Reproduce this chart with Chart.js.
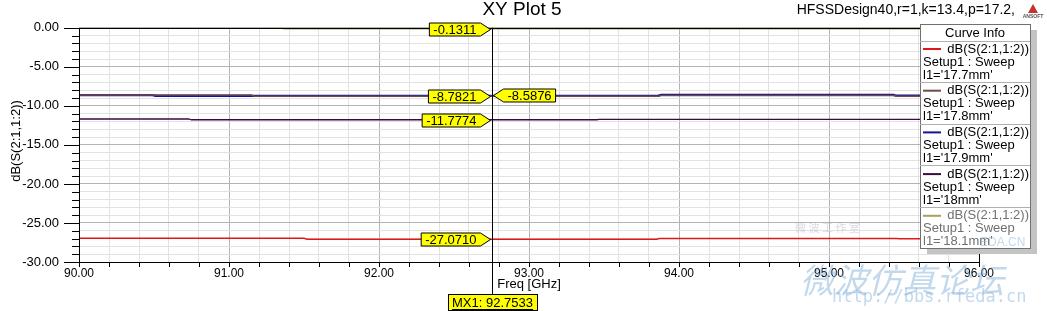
<!DOCTYPE html>
<html>
<head>
<meta charset="utf-8">
<script src="https://cdn.jsdelivr.net/npm/chart.js@4.4.1/dist/chart.umd.min.js"></script>
<style>
  html, body { margin: 0; padding: 0; background: #fff; }
  #wrap { width: 1047px; height: 311px; position: relative; }
  canvas { display: block; }
</style>
</head>
<body>
<div id="wrap"><canvas id="plot" width="1047" height="311" style="width:1047px;height:311px"></canvas></div>
<script>
// Curve data (freq in GHz, dB)
const freq177 = [90, 91.5, 91.52, 93.85, 93.87, 95.45, 95.47, 96];
const db177   = [-26.97, -26.97, -27.07, -27.07, -26.99, -26.99, -27.03, -27.03];

const freq178 = [90, 91.15, 91.17, 93.86, 93.88, 95.43, 95.45, 96];
const db178   = [-8.62, -8.62, -8.78, -8.78, -8.66, -8.66, -8.76, -8.76];

const freq179 = [90, 90.49, 90.51, 93.86, 93.88, 95.43, 95.45, 96];
const db179   = [-8.62, -8.62, -8.72, -8.72, -8.59, -8.59, -8.7, -8.7];

const freq180 = [90, 90.73, 90.75, 93.45, 93.47, 96];
const db180   = [-11.68, -11.68, -11.78, -11.78, -11.72, -11.72];

const freq181 = [90, 91.35, 91.37, 96];
const db181   = [-0.06, -0.06, -0.13, -0.13];

const curveNames = ["l1='17.7mm'", "l1='17.8mm'", "l1='17.9mm'", "l1='18mm'", "l1='18.1mm'"];
const curveColors = ['#e01818', '#6e4c4c', '#141496', '#3c0a40', '#a4a45c'];

// marker MX1
const markerFreq = 92.7533;
const markerVals = [-0.1311, -8.7821, -8.5876, -11.7774, -27.0710];
const markerLeft = [true, true, false, true, true];

function pts(xs, ys) {
    return xs.map((x, i) => ({ x: x, y: ys[i] }));
}

const isWhole = (v, step) => Math.abs(v / step - Math.round(v / step)) < 1e-6;
const FONT = 'Arial, "Liberation Sans"';

// custom drawing: ticks, frame, title, legend, markers, watermark
const decor = {
    id: 'decor',
    beforeDatasetsDraw(chart) {
        const c = chart.ctx, a = chart.chartArea;
        const xs = chart.scales.x, ys = chart.scales.y;
        c.save();
        c.strokeStyle = '#000';
        c.lineWidth = 1;
        // y ticks
        for (let v = 0; v >= -30; v -= 1) {
            const py = Math.round(ys.getPixelForValue(v)) + 0.5;
            const len = (v % 5 === 0) ? 15 : 7;
            c.beginPath(); c.moveTo(a.left - len, py); c.lineTo(a.left, py); c.stroke();
        }
        // x ticks
        for (let i = 0; i <= 30; i++) {
            const v = 90 + i * 0.2;
            const px = Math.round(xs.getPixelForValue(v)) + 0.5;
            c.beginPath(); c.moveTo(px, a.bottom); c.lineTo(px, a.bottom + 5); c.stroke();
        }
        c.restore();
    },
    afterDraw(chart) {
        const c = chart.ctx, a = chart.chartArea;
        const xs = chart.scales.x, ys = chart.scales.y;
        c.save();
        // frame
        c.strokeStyle = '#000';
        c.lineWidth = 1;
        c.strokeRect(Math.round(a.left) + 0.5, Math.round(a.top) + 0.5, Math.round(a.width), Math.round(a.height));

        // titles
        c.fillStyle = '#000';
        c.font = '19px ' + FONT;
        c.textAlign = 'center'; c.textBaseline = 'middle';
        c.fillText('XY Plot 5', 522, 10);
        c.font = '14px ' + FONT;
        c.textAlign = 'right';
        c.fillText('HFSSDesign40,r=1,k=13.4,p=17.2,', 1015, 10);
        // ansoft logo
        c.fillStyle = '#c83030';
        c.beginPath(); c.moveTo(1033, 4); c.lineTo(1028, 13); c.lineTo(1038, 13); c.closePath(); c.fill();
        c.fillStyle = '#555';
        c.font = 'bold 5px ' + FONT;
        c.textAlign = 'center';
        c.fillText('ANSOFT', 1033, 17);

        c.fillStyle = '#000';
        c.font = '13px ' + FONT;
        c.fillText('Freq [GHz]', 529, 284);
        c.save();
        c.translate(16, 141);
        c.rotate(-Math.PI / 2);
        c.fillText('dB(S(2:1,1:2))', 0, 0);
        c.restore();

        // marker line
        const mx = Math.round(xs.getPixelForValue(markerFreq)) + 0.5;
        c.strokeStyle = '#000';
        c.beginPath(); c.moveTo(mx, a.top); c.lineTo(mx, 294); c.stroke();

        // marker labels
        c.font = '13px ' + FONT;
        c.textBaseline = 'middle';
        markerVals.forEach((v, i) => {
            const py = Math.round(ys.getPixelForValue(v)) + 0.5;
            const txt = v.toFixed(4);
            const w = c.measureText(txt).width + 8;
            const h = 13;
            c.beginPath();
            if (markerLeft[i]) {
                const tip = mx - 2, r = tip - 10, l = r - w;
                c.moveTo(l, py - h / 2); c.lineTo(r, py - h / 2); c.lineTo(tip, py);
                c.lineTo(r, py + h / 2); c.lineTo(l, py + h / 2); c.closePath();
                c.fillStyle = '#ffff00'; c.fill(); c.strokeStyle = '#000'; c.stroke();
                c.fillStyle = '#000'; c.textAlign = 'center';
                c.fillText(txt, (l + r) / 2, py + 1);
            } else {
                const tip = mx + 1, l = tip + 10, r = l + w;
                c.moveTo(tip, py); c.lineTo(l, py - h / 2); c.lineTo(r, py - h / 2);
                c.lineTo(r, py + h / 2); c.lineTo(l, py + h / 2); c.closePath();
                c.fillStyle = '#ffff00'; c.fill(); c.strokeStyle = '#000'; c.stroke();
                c.fillStyle = '#000'; c.textAlign = 'center';
                c.fillText(txt, (l + r) / 2, py + 1);
            }
        });
        // MX1 box
        const mtxt = 'MX1: ' + markerFreq.toFixed(4);
        const mw = c.measureText(mtxt).width + 8;
        c.fillStyle = '#ffff00';
        c.fillRect(mx - mw / 2, 294, mw, 17);
        c.strokeStyle = '#000';
        c.strokeRect(Math.round(mx - mw / 2) + 0.5, 294.5, Math.round(mw), 16);
        c.fillStyle = '#000'; c.textAlign = 'center';
        c.fillText(mtxt, mx, 303);
        c.fillRect(mx - mw / 2 + 4, 309, mw - 8, 1);

        // watermark
        c.fillStyle = 'rgba(120,170,215,0.45)';
        c.font = 'italic 34px "Noto Sans CJK SC"';
        c.textAlign = 'left';
        c.fillText('微波仿真论坛', 800, 280);
        c.font = '17px "DejaVu Sans Mono"';
        c.fillText('http://bbs.rfeda.cn', 832, 298);
        c.font = '11px "Noto Sans CJK SC"';
        c.fillStyle = 'rgba(150,150,180,0.35)';
        c.fillText('微 波 工 作 室', 795, 228);

        // legend
        const lx = 920, ly = 24, lw = 110, lh = 224;
        c.fillStyle = '#c4c4c4';
        c.fillRect(lx + 7, ly + 6, lw, lh);
        c.fillStyle = '#fff';
        c.fillRect(lx, ly, lw, lh);
        c.strokeStyle = '#707070';
        c.strokeRect(lx + 0.5, ly + 0.5, lw, lh);
        c.fillStyle = '#000';
        c.font = '13px ' + FONT;
        c.textAlign = 'center';
        c.fillText('Curve Info', lx + lw / 2, 33);
        c.strokeStyle = '#b0b0b0';
        c.beginPath(); c.moveTo(lx, 41.5); c.lineTo(lx + lw, 41.5); c.stroke();
        curveNames.forEach((nm, i) => {
            const y0 = 49 + i * 41.7;
            c.strokeStyle = curveColors[i];
            c.lineWidth = 2;
            c.beginPath(); c.moveTo(lx + 3, y0); c.lineTo(lx + 21, y0); c.stroke();
            c.lineWidth = 1;
            c.fillStyle = i === 4 ? '#707070' : '#000';
            c.textAlign = 'right';
            c.fillText('dB(S(2:1,1:2))', lx + lw - 1, y0);
            c.textAlign = 'left';
            c.fillText('Setup1 : Sweep', lx + 3, y0 + 13);
            c.fillText(nm, lx + 3, y0 + 26);
            if (i < 4) {
                c.strokeStyle = '#b0b0b0';
                const sy = Math.round(y0 + 33) + 0.5;
                c.beginPath(); c.moveTo(lx, sy); c.lineTo(lx + lw, sy); c.stroke();
            }
        });
        c.fillStyle = 'rgba(120,170,215,0.45)';
        c.font = '12px ' + FONT;
        c.fillText('EDA.CN', 980, 243);
        c.restore();
    }
};

const series = [
    pts(freq177, db177), pts(freq178, db178), pts(freq179, db179),
    pts(freq180, db180), pts(freq181, db181)
];
const widths = [1.5, 1.5, 2.2, 1.3, 1.5];

new Chart(document.getElementById('plot'), {
    type: 'line',
    data: {
        datasets: series.map((d, i) => ({
            label: curveNames[i],
            data: d,
            borderColor: curveColors[i],
            borderWidth: widths[i],
            pointRadius: 0,
            tension: 0,
            fill: false
        }))
    },
    options: {
        responsive: false,
        animation: false,
        devicePixelRatio: 1,
        layout: { padding: { left: 0, right: 68, top: 24, bottom: 0 } },
        plugins: { legend: { display: false }, title: { display: false }, tooltip: { enabled: false } },
        scales: {
            x: {
                type: 'linear', min: 90, max: 96,
                afterFit: (s) => { s.height = 49; },
                ticks: {
                    stepSize: 0.2, autoSkip: false, maxRotation: 0, padding: 4,
                    color: '#000', font: { family: FONT, size: 12 },
                    callback: (v) => isWhole(v, 1) ? Number(v).toFixed(2) : ''
                },
                grid: {
                    drawTicks: false,
                    color: (ctx) => isWhole(ctx.tick.value, 1) ? '#b4b4b4' : '#e2e2e2'
                },
                border: { display: false }
            },
            y: {
                min: -30, max: 0,
                afterFit: (s) => { s.width = 79; },
                ticks: {
                    stepSize: 1, autoSkip: false, padding: 20,
                    color: '#000', font: { family: FONT, size: 13 },
                    callback: (v) => isWhole(v, 5) ? Number(v).toFixed(2) : ''
                },
                grid: {
                    drawTicks: false,
                    color: (ctx) => isWhole(ctx.tick.value, 5) ? '#b4b4b4' : '#e2e2e2'
                },
                border: { display: false }
            }
        }
    },
    plugins: [decor]
});
</script>
</body>
</html>
